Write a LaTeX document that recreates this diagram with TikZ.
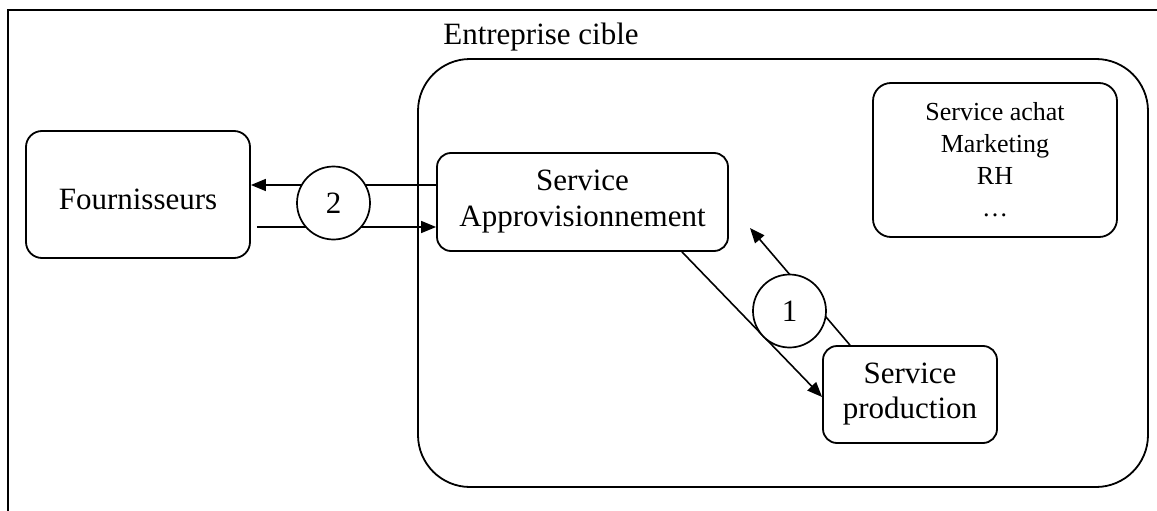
\documentclass[tikz,border=0pt]{standalone}
\usepackage{fontspec}
\setmainfont{Liberation Serif}
\usetikzlibrary{arrows.meta,calc}
\tikzset{
  box/.style={draw, line width=1.8pt, inner sep=0pt, align=center,
    font=\fontsize{31}{36}\selectfont},
  bubble/.style={draw, circle, fill=white, line width=1.7pt, inner sep=0pt,
    minimum size=73pt, font=\fontsize{31}{36}\selectfont},
  arr/.style={line width=1.6pt, -{Triangle[length=15pt,width=12pt]}}
}
\begin{document}
\begin{tikzpicture}[x=1pt,y=-1pt]
\useasboundingbox (0,0) rectangle (1157,511);
% outer frame (only top and left visible)
\draw[line width=1.8pt] (8,511) -- (8,10) -- (1157,10);
% enterprise container
\node[box, rounded corners=52pt, minimum width=730pt, minimum height=428pt] (ent) at (783,273) {};
\node[font=\fontsize{31}{36}\selectfont, inner sep=0pt] (entlabel) at (541,37) {Entreprise cible};
% boxes
\node[box, rounded corners=16pt, minimum width=224pt, minimum height=127pt, text height=30pt, text depth=0pt] (fourn) at (138,194.5) {Fournisseurs};
\node[box, rounded corners=14pt, minimum width=291pt, minimum height=98pt] (approv) at (582.5,202) {Service\\Approvisionnement};
\node[box, rounded corners=18pt, minimum width=244pt, minimum height=154pt, font=\fontsize{26}{32}\selectfont] (achat) at (995,160) {Service achat\\Marketing\\RH\\…};
\node[box, rounded corners=14pt, minimum width=174pt, minimum height=97pt, font=\fontsize{31}{35}\selectfont] (prod) at (910,394.5) {Service\\production};
% connectors between Fournisseurs and Approvisionnement
\coordinate (t1) at ([yshift=17pt]approv.west);
\coordinate (b1) at ([yshift=-25pt]approv.west);
\draw[arr] (t1) -- (t1 -| fourn.east);
\draw[arr] ([xshift=6pt]b1 -| fourn.east) -- (b1);
% connectors between Approvisionnement and production
\coordinate (ret) at (750,228);
\draw[arr] ([xshift=99.5pt]approv.south) -- ([yshift=-2.5pt]prod.west);
\draw[arr] ([xshift=-60pt]prod.north) -- (ret);
% numbered bubbles
\node[bubble] (c2) at (333.5,203) {2};
\node[bubble] (c1) at (789.5,311) {1};
\end{tikzpicture}
\end{document}
